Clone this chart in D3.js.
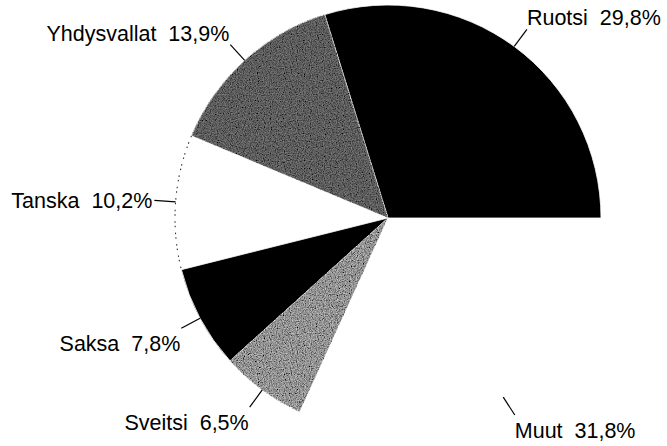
<!DOCTYPE html>
<html><head><meta charset="utf-8">
<script src="https://cdn.jsdelivr.net/npm/d3@7"></script>
<style>
html,body{margin:0;padding:0;background:#fff;}
text{font-family:"Liberation Sans",Arial,sans-serif;white-space:pre;}
</style></head>
<body><svg id="c" width="667" height="446"></svg>
<script>
const categories = ["Ruotsi","Yhdysvallat","Tanska","Saksa","Sveitsi","Muut"];
const values = [29.8,13.9,10.2,7.8,6.5,31.8];
const valueLabels = ["29,8%","13,9%","10,2%","7,8%","6,5%","31,8%"];
const fills = ["#000","#808080","#fff","#000","#c8c8c8","#fff"];
const textured = [false,true,false,false,true,false];

const W=667,H=446,cx=388,cy=218,R=213;
const svg=d3.select("#c");
const defs=svg.append("defs");
const f=defs.append("filter").attr("id","grain").attr("x",0).attr("y",0).attr("width",1).attr("height",1);
f.append("feTurbulence").attr("type","fractalNoise").attr("baseFrequency",0.85).attr("numOctaves",2).attr("seed",4).attr("result","n");
f.append("feColorMatrix").attr("in","n").attr("type","matrix")
 .attr("values","1.6 0 0 0 -0.3  1.6 0 0 0 -0.3  1.6 0 0 0 -0.3  0 0 0 0 1").attr("result","g");
f.append("feBlend").attr("in","SourceGraphic").attr("in2","g").attr("mode","multiply").attr("result","b");
f.append("feComposite").attr("in","b").attr("in2","SourceGraphic").attr("operator","in");

const data=categories.map((c,i)=>({c,v:values[i],lab:valueLabels[i],fill:fills[i],tex:textured[i]}));
const pie=d3.pie().value(d=>d.v).sort(null).startAngle(Math.PI/2).endAngle(Math.PI/2-2*Math.PI);
const arcs=pie(data);
const arc=d3.arc().innerRadius(0).outerRadius(R);
const g=svg.append("g").attr("transform",`translate(${cx},${cy})`);
g.selectAll("path.s").data(arcs).join("path").attr("class","s")
 .attr("d",arc).attr("fill",d=>d.data.fill)
 .attr("filter",d=>d.data.tex?"url(#grain)":null)
 .attr("stroke",d=>d.data.fill==="#fff"?"none":"#fff").attr("stroke-width",0.8);
// faint dotted edge of Tanska
const tanska=arcs[2];
g.append("path").attr("d",d3.arc().innerRadius(R).outerRadius(R)(tanska))
 .attr("fill","none").attr("stroke","#333").attr("stroke-width",1.1).attr("stroke-dasharray","1.5,10");

const r1=R, r2=R*1.1;
arcs.forEach((a,i)=>{
  const m=(a.startAngle+a.endAngle)/2;
  const sx=Math.sin(m), sy=-Math.cos(m);
  const x1=sx*r1,y1=sy*r1,x2=sx*r2,y2=sy*r2;
  g.append("line").attr("x1",x1).attr("y1",y1).attr("x2",x2).attr("y2",y2).attr("stroke","#000").attr("stroke-width",1.2);
  let anchor=sx>0?"start":"end";
  let ty, tx=x2 + (sx>0?0:-1);
  if (Math.abs(sy)<0.3){ ty=y2+8; tx=x2-2; }
  else if (sy<0) ty=y2-4;
  else ty=y2+23;
  g.append("text").attr("x",tx).attr("y",ty).attr("text-anchor",anchor)
   .attr("font-size",21.5).text(a.data.c+"  "+a.data.lab);
});
</script></body></html>
